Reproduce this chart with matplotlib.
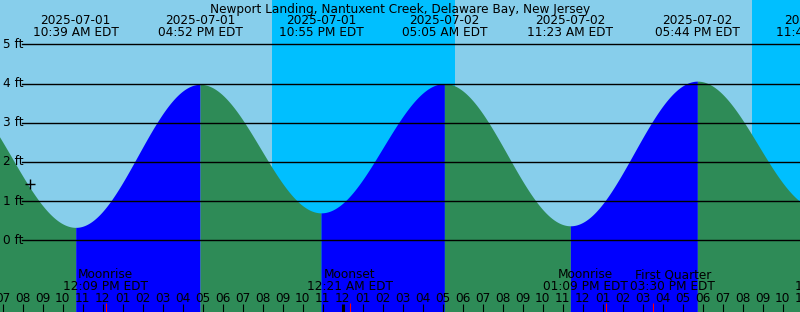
import numpy as np
import matplotlib
matplotlib.use("Agg")
import matplotlib.pyplot as plt

# ---------------- data ----------------
title = "Newport Landing, Nantuxent Creek, Delaware Bay, New Jersey"
# tide extremes: hours since 2025-07-01 00:00 EDT, height in ft, label texts
tide_hours = [4.25, 10.65, 16.867, 22.917, 29.083, 35.383, 41.733, 47.817]
tide_levels = [3.90, 0.33, 3.98, 0.70, 4.00, 0.37, 4.06, 0.80]
tide_dates = ["", "2025-07-01", "2025-07-01", "2025-07-01",
              "2025-07-02", "2025-07-02", "2025-07-02", "2025-07-02"]
tide_times = ["", "10:39 AM EDT", "04:52 PM EDT", "10:55 PM EDT",
              "05:05 AM EDT", "11:23 AM EDT", "05:44 PM EDT", "11:49 PM EDT"]

# sun: night intervals (hours since 2025-07-01 00:00)
night_start = [20.467, 44.467]
night_end = [29.617, 53.617]

# moon events
moon_hours = [12.15, 24.35, 37.15, 39.5, 48.75]
moon_names = ["Moonrise", "Moonset", "Moonrise", "First Quarter", "Moonset"]
moon_times = ["12:09 PM EDT", "12:21 AM EDT", "01:09 PM EDT", "03:30 PM EDT", "12:45 AM EDT"]

# current-time marker
now_hour = 8.38
now_level = 1.43

y_ticks_ft = [0, 1, 2, 3, 4, 5]
y_tick_labels = ["0 ft", "1 ft", "2 ft", "3 ft", "4 ft", "5 ft"]

# ---------------- layout ----------------
W, H = 800, 312
X0 = 6.865            # left edge, hours
PX_PER_H = 20.0
Y0PX = 240.3          # pixel row of 0 ft
PX_PER_FT = 39.2

def hx(px):
    return X0 + px / PX_PER_H

def fy(py):
    return (Y0PX - py) / PX_PER_FT

DAY = "#87CEEB"
NIGHT = "#00BFFF"
RISE = "#0000FF"
FALL = "#2E8B57"
FS = 8.7

fig = plt.figure(figsize=(W / 100, H / 100), dpi=100)
ax = fig.add_axes([0, 0, 1, 1])
xmin, xmax = X0, X0 + W / PX_PER_H
ymin, ymax = fy(H), fy(0)
ax.set_xlim(xmin, xmax)
ax.set_ylim(ymin, ymax)
ax.axis("off")

# background
ax.axvspan(xmin, xmax, color=DAY, lw=0, zorder=0)
for s, e in zip(night_start, night_end):
    ax.axvspan(s, e, color=NIGHT, lw=0, zorder=0.5)

# tide curve, cosine between extremes
for i in range(len(tide_hours) - 1):
    t1, t2 = tide_hours[i], tide_hours[i + 1]
    h1, h2 = tide_levels[i], tide_levels[i + 1]
    t = np.linspace(t1, t2, 300)
    lev = h1 + (h2 - h1) * (1 - np.cos(np.pi * (t - t1) / (t2 - t1))) / 2
    col = RISE if h2 > h1 else FALL
    ax.fill_between(t, ymin, lev, color=col, lw=0, zorder=1, antialiased=False)

# grid lines
for v, lab in zip(y_ticks_ft, y_tick_labels):
    ax.axhline(v, xmin=22 / W, xmax=1, color="black", lw=1.0, zorder=2)
    ax.text(hx(2.7), v, lab, fontsize=FS, ha="left", va="center", zorder=3)

# title
ax.text(hx(400), fy(12.5), title, fontsize=FS, ha="center", va="baseline", zorder=3)

# extreme labels
for t, d, tm in zip(tide_hours, tide_dates, tide_times):
    if not d:
        continue
    ax.text(t, fy(24.0), d, fontsize=FS, ha="center", va="baseline", zorder=3)
    ax.text(t, fy(36.0), tm, fontsize=FS, ha="center", va="baseline", zorder=3)

# now marker
ax.plot([now_hour], [now_level], marker="+", color="black", ms=7, mew=1.0, zorder=4)

# hour ticks
for h in range(int(np.floor(xmin)), int(np.ceil(xmax)) + 1):
    hr12 = h % 12
    hr12 = 12 if hr12 == 0 else hr12
    lab = "%02d" % hr12
    ax.text(h, fy(301.7), lab, fontsize=FS, ha="center", va="baseline", zorder=3)
    lw = 2.2 if h % 24 == 0 else 0.8
    ax.vlines(h, fy(H), fy(304), color="black", lw=lw, zorder=3)

# moon events: labels pushed apart when they would collide
renderer = fig.canvas.get_renderer()
tops, bots = [], []
for t, n, tm in zip(moon_hours, moon_names, moon_times):
    tops.append(ax.text(t, fy(278.3), n, fontsize=FS, ha="center", va="baseline", zorder=3))
    bots.append(ax.text(t, fy(290.0), tm, fontsize=FS, ha="center", va="baseline", zorder=3))
    ax.vlines(t, fy(H), fy(303), color="red", lw=0.8, zorder=3)

widths = [max(a.get_window_extent(renderer).width, b.get_window_extent(renderer).width) / PX_PER_H
          for a, b in zip(tops, bots)]
centers = list(moon_hours)
gap = 2.0 / PX_PER_H
for i in range(len(centers) - 1):
    need = (widths[i] + widths[i + 1]) / 2 + gap
    have = centers[i + 1] - centers[i]
    if have < need:
        shift = (need - have) / 2
        centers[i] -= shift
        centers[i + 1] += shift
for a, b, c in zip(tops, bots, centers):
    a.set_x(c)
    b.set_x(c)

fig.savefig("out.png", dpi=100)
